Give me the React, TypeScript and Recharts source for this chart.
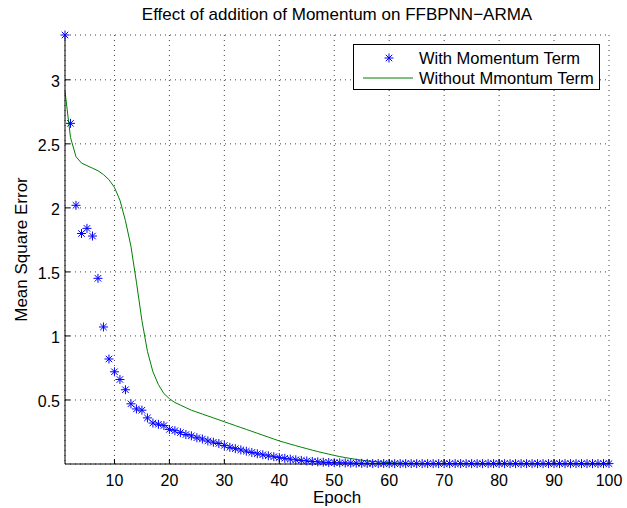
import { CartesianGrid, ComposedChart, Label, Legend, Line, Scatter, XAxis, YAxis } from "recharts";

const epochs = Array.from({ length: 100 }, (_, i) => i + 1);

const withMomentum = [
  3.35, 2.66, 2.02, 1.8, 1.84, 1.78, 1.45, 1.07, 0.82, 0.72,
  0.66, 0.58, 0.47, 0.43, 0.42, 0.36, 0.32, 0.31, 0.3, 0.27,
  0.26, 0.245, 0.23, 0.22, 0.205, 0.195, 0.18, 0.17, 0.16, 0.145,
  0.13, 0.12, 0.11, 0.1, 0.09, 0.08, 0.072, 0.064, 0.057, 0.05,
  0.044, 0.038, 0.033, 0.028, 0.024, 0.02, 0.017, 0.014, 0.012, 0.01,
  0.009, 0.008, 0.007, 0.006, 0.005, 0.005, 0.004, 0.004, 0.004, 0.003,
  0.003, 0.003, 0.003, 0.003, 0.003, 0.003, 0.003, 0.003, 0.003, 0.003,
  0.003, 0.003, 0.003, 0.003, 0.003, 0.003, 0.003, 0.003, 0.003, 0.003,
  0.003, 0.003, 0.003, 0.003, 0.003, 0.003, 0.003, 0.003, 0.003, 0.003,
  0.003, 0.003, 0.003, 0.003, 0.003, 0.003, 0.003, 0.003, 0.003, 0.003,
];

const withoutMomentum = [
  2.91, 2.55, 2.4, 2.35, 2.33, 2.31, 2.29, 2.26, 2.22, 2.16,
  2.06, 1.9, 1.7, 1.42, 1.12, 0.88, 0.72, 0.62, 0.55, 0.51,
  0.48, 0.46, 0.44, 0.42, 0.405, 0.39, 0.375, 0.36, 0.345, 0.33,
  0.315, 0.3, 0.285, 0.27, 0.255, 0.24, 0.225, 0.21, 0.195, 0.18,
  0.168, 0.155, 0.143, 0.131, 0.12, 0.108, 0.097, 0.087, 0.077, 0.067,
  0.058, 0.05, 0.043, 0.036, 0.03, 0.025, 0.02, 0.016, 0.013, 0.01,
  0.008, 0.007, 0.006, 0.005, 0.005, 0.004, 0.004, 0.004, 0.003, 0.003,
  0.003, 0.003, 0.003, 0.003, 0.003, 0.003, 0.003, 0.003, 0.003, 0.003,
  0.003, 0.003, 0.003, 0.003, 0.003, 0.003, 0.003, 0.003, 0.003, 0.003,
  0.003, 0.003, 0.003, 0.003, 0.003, 0.003, 0.003, 0.003, 0.003, 0.003,
];

const xTicks = [10, 20, 30, 40, 50, 60, 70, 80, 90, 100];
const yTicks = [0.5, 1, 1.5, 2, 2.5, 3];

const data = epochs.map((epoch, i) => ({
  epoch,
  withMomentum: withMomentum[i],
  withoutMomentum: withoutMomentum[i],
}));

const FONT = "'Liberation Sans', Arial, sans-serif";
const BLUE = "#0000ff";
const GREEN = "#008000";

function Asterisk({ cx, cy }: any) {
  const r = 4.5;
  const d = r * 0.72;
  return (
    <g stroke={BLUE} strokeWidth={1}>
      <line x1={cx - r} y1={cy} x2={cx + r} y2={cy} />
      <line x1={cx} y1={cy - r} x2={cx} y2={cy + r} />
      <line x1={cx - d} y1={cy - d} x2={cx + d} y2={cy + d} />
      <line x1={cx - d} y1={cy + d} x2={cx + d} y2={cy - d} />
    </g>
  );
}

const BottomTick = ({ x, y, payload }: any) => (
  <g>
    <line x1={x} x2={x} y1={y} y2={y - 5} stroke="#000" />
    <text x={x} y={y + 21.5} textAnchor="middle" fontSize={16} fontFamily={FONT} fill="#000">
      {payload.value}
    </text>
  </g>
);

const LeftTick = ({ x, y, payload }: any) => (
  <g>
    <line x1={x} x2={x + 5} y1={y} y2={y} stroke="#000" />
    <text x={x - 5} y={y + 7} textAnchor="end" fontSize={16} fontFamily={FONT} fill="#000">
      {payload.value}
    </text>
  </g>
);

const TopTick = ({ x, y }: any) => <line x1={x} x2={x} y1={y} y2={y + 5} stroke="#000" />;
const RightTick = ({ x, y }: any) => <line x1={x} x2={x - 5} y1={y} y2={y} stroke="#000" />;

function LegendBox() {
  const row = { display: "flex", alignItems: "center", height: 20, whiteSpace: "nowrap" as const };
  return (
    <div
      style={{
        border: "1px solid #000",
        background: "#fff",
        fontFamily: FONT,
        fontSize: 16.5,
        color: "#000",
        padding: "3px 0",
        boxSizing: "border-box",
        height: 46,
        width: 247,
      }}
    >
      <div style={row}>
        <svg width={65} height={20} style={{ flexShrink: 0 }}>
          <Asterisk cx={35} cy={10} />
        </svg>
        <span style={{ whiteSpace: "nowrap" }}>With Momentum Term</span>
      </div>
      <div style={row}>
        <svg width={65} height={20} style={{ flexShrink: 0 }}>
          <line x1={9} x2={59} y1={10} y2={10} stroke={GREEN} />
        </svg>
        <span style={{ whiteSpace: "nowrap" }}>Without Mmontum Term</span>
      </div>
    </div>
  );
}

export default function App() {
  return (
    <div style={{ position: "absolute", left: 0, top: 0, width: 627, height: 508, background: "#fff" }}>
      <div
        style={{
          position: "absolute",
          top: 5,
          left: 65,
          width: 544,
          textAlign: "center",
          fontFamily: FONT,
          fontSize: 17,
          color: "#000",
          whiteSpace: "nowrap",
        }}
      >
        Effect of addition of Momentum on FFBPNN−ARMA
      </div>
      <ComposedChart width={627} height={508} data={data} margin={{ top: 35, right: 18, left: 0, bottom: 0 }}>
        <CartesianGrid stroke="#444" strokeDasharray="1 4" />
        <XAxis
          dataKey="epoch"
          type="number"
          domain={[1, 100]}
          ticks={xTicks}
          height={44}
          tickSize={0}
          tickMargin={0}
          tickLine={false}
          tick={<BottomTick />}
          stroke="#000"
          interval={0}
        >
          <Label value="Epoch" position="insideBottom" offset={5} fontSize={17} fontFamily={FONT} fill="#000" />
        </XAxis>
        <XAxis
          xAxisId="top"
          orientation="top"
          dataKey="epoch"
          type="number"
          domain={[1, 100]}
          ticks={xTicks}
          height={0}
          tickSize={0}
          tickMargin={0}
          tickLine={false}
          tick={<TopTick />}
          stroke="#000"
          interval={0}
        />
        <YAxis
          type="number"
          domain={[0, 3.35]}
          ticks={yTicks}
          width={65}
          tickSize={0}
          tickMargin={0}
          tickLine={false}
          tick={<LeftTick />}
          stroke="#000"
          interval={0}
        >
          <Label
            value="Mean Square Error"
            angle={-90}
            position="insideLeft"
            offset={21}
            fontSize={17}
            fontFamily={FONT}
            fill="#000"
            style={{ textAnchor: "middle" }}
          />
        </YAxis>
        <YAxis
          yAxisId="right"
          orientation="right"
          type="number"
          domain={[0, 3.35]}
          ticks={yTicks}
          width={0}
          tickSize={0}
          tickMargin={0}
          tickLine={false}
          tick={<RightTick />}
          stroke="#000"
          interval={0}
        />
        <Line
          type="linear"
          dataKey="withoutMomentum"
          stroke={GREEN}
          strokeWidth={1}
          dot={false}
          isAnimationActive={false}
        />
        <Scatter dataKey="withMomentum" shape={<Asterisk />} isAnimationActive={false} />
        <Legend
          layout="vertical"
          align="center"
          verticalAlign="middle"
          wrapperStyle={{ top: 44, left: 353, width: 247, height: 46 }}
          content={<LegendBox />}
        />
      </ComposedChart>
    </div>
  );
}
